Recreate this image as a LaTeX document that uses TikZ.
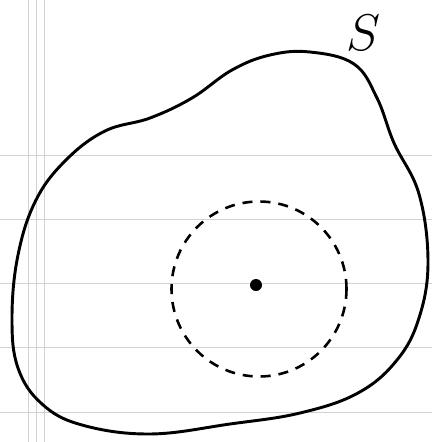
\RequirePackage{fix-cm}
\documentclass[tikz,border=0pt]{standalone}
\usepackage{tikz}

\begin{document}
\begin{tikzpicture}[x=0.03cm, y=-0.03cm,
    ruleline/.style={gray!35, line width=0.4pt},
    surface/.style={line width=2.5pt, line join=round},
    gausscircle/.style={draw, circle, dashed, line width=2.2pt, dash pattern=on 0.3cm off 0.24cm, minimum size=5.25cm, inner sep=0pt},
    charge/.style={circle, fill, minimum size=0.36cm, inner sep=0pt}]
                \useasboundingbox (0,0) rectangle (432,442);
                \fill[white] (0,0) rectangle (432,442);

                % lined paper
                \foreach \y in {155,219,283,347,412}
                    \draw[ruleline] (0,\y) -- (432,\y);
                \foreach \x in {28,36,44}
                    \draw[ruleline] (\x,0) -- (\x,442);

                % closed surface
                \draw[surface] plot[smooth cycle, tension=0.65] coordinates {
                    (310,52) (354,64) (377,98) (394,143) (419,194)
                    (428,262) (419,318) (397,360) (358,393) (300,413)
                    (230,424) (150,434) (82,425) (42,404) (18,368)
                    (12,318) (18,255) (36,200) (66,160) (105,131)
                    (150,118) (192,98) (232,70) (270,55)};

                \node[font=\fontsize{44}{44}\selectfont] (slabel) at (364,33) {$S$};

                \node[gausscircle] (sphere) at (259,289) {};
                \node[charge] (q) at (256,285) {};
            \end{tikzpicture}
\end{document}
